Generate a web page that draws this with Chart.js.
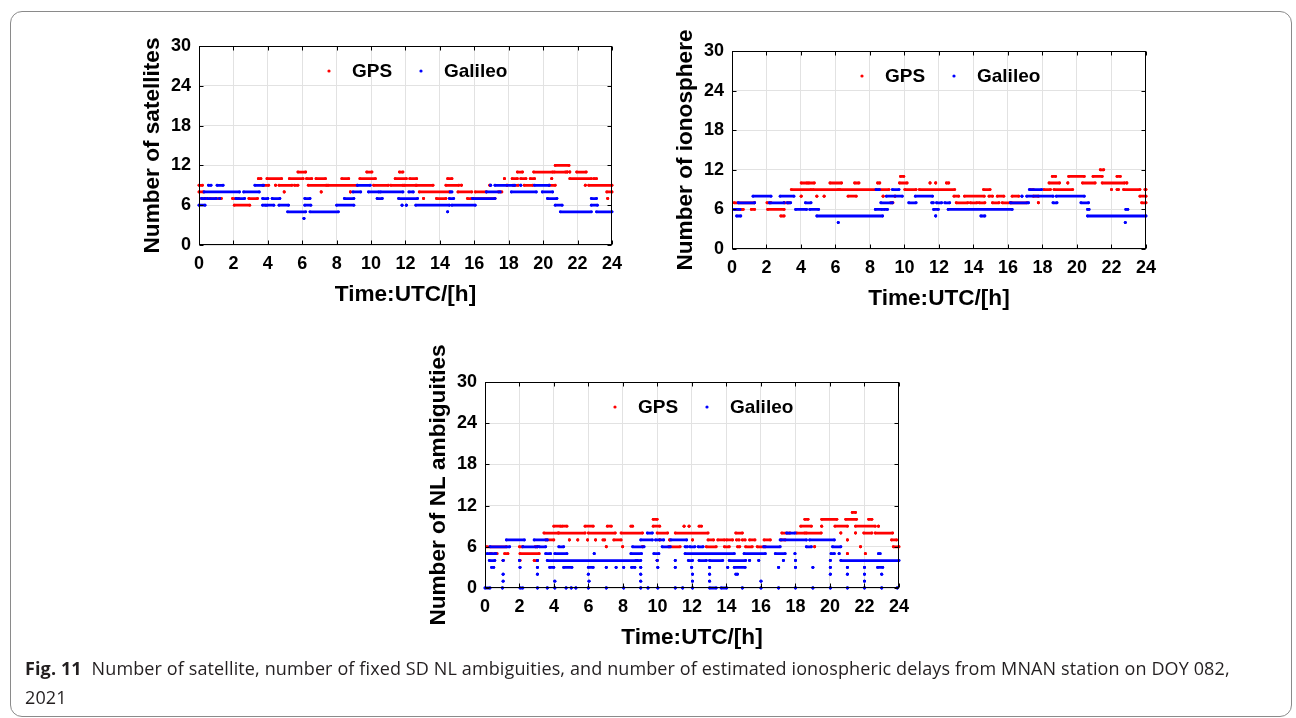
<!DOCTYPE html>
<html>
<head>
<meta charset="utf-8">
<title>Fig. 11</title>
<script src="https://cdn.jsdelivr.net/npm/chart.js@4.4.1/dist/chart.umd.min.js"></script>
<style>
  html, body { margin: 0; padding: 0; background: #fff; }
  body { width: 1296px; height: 718px; position: relative; overflow: hidden; }
  #frame { position: absolute; left: 10px; top: 11px; width: 1282px; height: 706px;
           border: 1px solid #8a8a8a; border-radius: 12px; box-sizing: border-box; }
  canvas { position: absolute; }
  #caption { position: absolute; left: 25px; top: 654px; font-family: 'Open Sans', sans-serif;
             font-size: 18px; letter-spacing: 0.12px; line-height: 29px; color: #231f20; white-space: nowrap; }
  #caption b { font-weight: 700; margin-right: 5px; }
</style>
</head>
<body>
<div id="frame"></div>
<canvas id="c-sat"></canvas>
<canvas id="c-iono"></canvas>
<canvas id="c-nl"></canvas>
<div id="caption"><b>Fig. 11</b> Number of satellite, number of fixed SD NL ambiguities, and number of estimated ionospheric delays from MNAN station on DOY 082,<br>2021</div>

<script>
// axis ticks
const hourTicks = [0, 2, 4, 6, 8, 10, 12, 14, 16, 18, 20, 22, 24];
const countTicks = [0, 6, 12, 18, 24, 30];
const seriesNames = ['GPS', 'Galileo'];

// runs: [start hour, end hour, count]
const satGps = [
  [0, 0.2, 9], [3.7, 4.05, 9], [4.45, 4.45, 9], [4.65, 5.4, 9], [5.55, 5.75, 9], [6.35, 7.4, 9], [7.5, 9.2, 9],
  [10.15, 11.0, 9], [11.15, 11.85, 9], [11.95, 12.6, 9], [12.65, 13.6, 9], [14.35, 15.1, 9], [15.25, 15.25, 9],
  [16.9, 16.9, 9], [17.9, 17.9, 9], [18.25, 18.55, 9], [18.9, 19.4, 9], [20.35, 20.7, 9], [22.45, 22.45, 9], [22.65, 24, 9],
  [3.45, 3.6, 10], [3.95, 4.8, 10], [5.25, 6.05, 10], [6.25, 6.55, 10], [6.8, 7.35, 10], [8.3, 8.7, 10], [9.35, 10.25, 10],
  [11.4, 12.05, 10], [12.25, 12.65, 10], [14.45, 14.7, 10], [17.75, 17.75, 10], [18.2, 18.5, 10], [18.7, 19.0, 10],
  [19.25, 19.5, 10], [20.5, 20.5, 10], [21.55, 22.8, 10], [22.95, 23.1, 10],
  [5.75, 6.2, 11], [9.75, 10.05, 11], [11.65, 11.85, 11], [18.5, 18.8, 11], [19.45, 20.55, 11], [20.65, 21.3, 11],
  [21.4, 21.4, 11], [21.55, 21.55, 11], [21.95, 22.5, 11],
  [20.7, 21.5, 12],
  [0, 0.25, 8], [4.95, 4.95, 8], [7.1, 7.1, 8], [8.8, 8.8, 8], [12.8, 14.55, 8], [15.05, 15.85, 8], [16.05, 16.7, 8],
  [17.4, 17.6, 8], [23.7, 24, 8],
  [0.15, 0.45, 7], [0.65, 1.3, 7], [1.95, 2.3, 7], [2.9, 3.4, 7], [13.05, 13.05, 7], [13.8, 14.35, 7], [15.6, 15.85, 7],
  [15.95, 17.2, 7], [23.75, 23.75, 7],
  [2.05, 2.95, 6]
];
const satGal = [
  [0.55, 0.7, 9], [1.05, 1.4, 9], [3.25, 3.75, 9], [9.2, 9.95, 9], [16.95, 16.95, 9], [17.2, 18.35, 9], [18.7, 18.7, 9], [19.5, 20.35, 9],
  [0.3, 2.35, 8], [2.6, 3.5, 8], [8.95, 9.4, 8], [9.85, 10.45, 8], [10.55, 11.85, 8], [12.2, 12.45, 8], [14.6, 14.7, 8],
  [16.7, 17.5, 8], [18.15, 19.6, 8], [19.95, 20.55, 8],
  [0.15, 0.35, 7], [0.5, 1.0, 7], [1.2, 1.2, 7], [2.15, 2.65, 7], [3.7, 4.0, 7], [4.25, 4.7, 7], [6.15, 6.45, 7], [8.45, 9.0, 7],
  [10.35, 10.65, 7], [11.6, 12.7, 7], [14.55, 14.8, 7], [15.9, 17.2, 7], [20.25, 20.8, 7], [22.8, 23.1, 7],
  [0, 0.35, 6], [3.7, 3.85, 6], [3.95, 4.35, 6], [4.65, 5.2, 6], [6.15, 6.5, 6], [8.0, 9.0, 6], [11.8, 11.8, 6], [12.05, 12.05, 6],
  [12.6, 14.55, 6], [14.7, 16.05, 6], [20.7, 21.1, 6], [22.8, 23.15, 6],
  [5.15, 6.2, 5], [6.45, 8.1, 5], [14.45, 14.45, 5], [21.0, 22.8, 5], [23.1, 24, 5],
  [6.1, 6.1, 4]
];

const ionoGps = [
  [21.35, 21.55, 12],
  [9.77, 9.96, 11], [18.57, 18.76, 11], [19.52, 20.42, 11], [20.93, 21.46, 11], [22.32, 22.51, 11],
  [4.01, 4.35, 10], [4.45, 4.77, 10], [5.68, 6.35, 10], [7.11, 7.36, 10], [8.44, 8.57, 10], [9.71, 10.15, 10], [11.48, 11.48, 10],
  [11.81, 11.81, 10], [12.43, 12.57, 10], [18.38, 18.99, 10], [19.47, 19.47, 10], [20.32, 21.05, 10], [21.46, 22.76, 10], [22.89, 22.89, 10],
  [3.44, 4.58, 9], [4.7, 6.16, 9], [6.25, 9.1, 9], [10.02, 10.67, 9], [10.86, 12.91, 9], [14.58, 14.96, 9], [17.28, 17.47, 9],
  [18.08, 18.46, 9], [18.67, 19.75, 9], [22.0, 22.0, 9], [22.32, 22.41, 9], [22.7, 23.65, 9], [23.94, 24, 9],
  [4.01, 4.01, 8], [4.92, 4.92, 8], [5.34, 5.34, 8], [6.73, 7.2, 8], [8.76, 8.76, 8], [9.45, 9.45, 8], [12.87, 13.14, 8],
  [13.48, 14.62, 8], [14.9, 15.1, 8], [15.38, 15.76, 8], [16.24, 16.62, 8], [17.47, 17.76, 8], [23.65, 24, 8],
  [0.13, 1.31, 7], [2.03, 2.26, 7], [3.02, 3.31, 7], [9.2, 9.33, 7], [13.0, 13.67, 7], [13.82, 14.2, 7], [14.33, 14.66, 7],
  [15.1, 15.48, 7], [15.67, 16.14, 7], [16.2, 17.1, 7], [17.76, 17.76, 7], [23.75, 24, 7],
  [0.17, 0.36, 6], [0.55, 0.65, 6], [1.12, 1.31, 6], [2.07, 3.02, 6],
  [2.83, 3.02, 5]
];
const ionoGal = [
  [8.35, 8.54, 9], [9.3, 9.68, 9], [17.24, 17.95, 9],
  [1.22, 2.26, 8], [2.79, 3.59, 8], [8.95, 9.87, 8], [10.63, 11.62, 8], [16.81, 16.81, 8], [17.09, 18.61, 8], [18.8, 20.42, 8],
  [0.36, 1.31, 7], [2.17, 3.02, 7], [3.21, 3.4, 7], [4.26, 4.58, 7], [8.63, 9.3, 7], [10.25, 10.67, 7], [11.58, 11.67, 7],
  [11.86, 12.15, 7], [12.34, 12.62, 7], [16.14, 17.19, 7], [18.61, 18.84, 7], [20.23, 20.67, 7],
  [0.13, 0.46, 6], [3.69, 4.32, 6], [4.51, 5.02, 6], [8.31, 8.69, 6], [8.82, 9.01, 6], [11.69, 11.96, 6], [12.53, 16.24, 6],
  [20.61, 20.7, 6], [22.83, 22.95, 6],
  [0.27, 0.51, 5], [4.92, 8.73, 5], [11.81, 11.81, 5], [14.43, 14.66, 5], [20.61, 24, 5],
  [6.16, 6.16, 4], [22.8, 22.8, 4]
];

const nlGps = [
  [21.29, 21.48, 11],
  [9.75, 9.98, 10], [18.54, 18.73, 10], [19.52, 20.4, 10], [20.91, 21.54, 10], [22.24, 22.43, 10],
  [3.99, 4.37, 9], [4.47, 4.75, 9], [5.8, 6.27, 9], [7.09, 7.32, 9], [8.46, 8.56, 9], [9.75, 10.13, 9], [11.54, 11.54, 9],
  [11.83, 11.83, 9], [12.41, 12.55, 9], [18.31, 18.92, 9], [19.52, 19.52, 9], [20.29, 21.01, 9], [21.48, 22.62, 9], [22.81, 22.81, 9],
  [3.42, 4.24, 8], [4.28, 5.8, 8], [5.99, 7.55, 8], [7.89, 9.13, 8], [9.98, 10.59, 8], [11.03, 12.93, 8], [14.54, 14.92, 8],
  [17.21, 17.68, 8], [18.06, 18.54, 8], [18.63, 19.49, 8], [20.63, 20.63, 8], [21.48, 21.48, 8], [21.96, 22.43, 8], [22.62, 23.63, 8],
  [3.52, 3.99, 7], [4.89, 4.89, 7], [5.38, 5.38, 7], [5.95, 5.95, 7], [6.41, 6.41, 7], [6.84, 6.94, 7], [7.47, 7.89, 7],
  [10.13, 10.13, 7], [10.7, 10.7, 7], [12.03, 12.03, 7], [12.93, 13.25, 7], [13.5, 13.88, 7], [14.01, 14.35, 7], [14.58, 14.73, 7],
  [14.92, 15.08, 7], [15.34, 15.65, 7], [16.18, 16.54, 7], [17.17, 17.4, 7], [21.01, 21.01, 7], [23.57, 23.86, 7],
  [0.1, 1.24, 6], [2.0, 2.19, 6], [2.91, 3.04, 6], [7.03, 7.03, 6], [7.98, 7.98, 6], [9.13, 9.13, 6], [10.65, 11.31, 6],
  [12.83, 13.4, 6], [13.88, 14.16, 6], [14.64, 14.77, 6], [15.11, 15.49, 6], [15.78, 16.25, 6], [19.11, 19.11, 6],
  [21.77, 21.77, 6], [23.67, 24, 6],
  [0.29, 0.38, 5], [0.57, 0.7, 5], [1.14, 1.33, 5], [2.03, 3.14, 5], [21.01, 21.01, 5], [22.05, 22.05, 5],
  [1.05, 1.05, 4], [2.03, 2.03, 4], [2.85, 3.04, 4], [9.98, 9.98, 4]
];
const nlGal = [
  [9.41, 9.7, 8], [17.49, 17.97, 8],
  [1.24, 2.28, 7], [2.85, 3.61, 7], [9.03, 9.7, 7], [9.89, 10.36, 7], [10.78, 11.69, 7], [17.11, 18.63, 7], [18.82, 20.25, 7],
  [0.29, 1.43, 6], [2.19, 3.04, 6], [3.14, 3.52, 6], [4.28, 4.56, 6], [8.56, 9.22, 6], [10.27, 10.74, 6], [11.6, 11.73, 6],
  [11.88, 12.17, 6], [12.36, 12.64, 6], [16.16, 17.11, 6], [18.63, 18.92, 6], [20.15, 20.63, 6],
  [0.13, 0.63, 5], [3.52, 3.8, 5], [4.05, 4.75, 5], [6.33, 6.33, 5], [8.46, 9.07, 5], [9.79, 10.08, 5], [11.6, 14.45, 5],
  [15.02, 16.25, 5], [16.83, 17.4, 5], [17.97, 17.97, 5], [20.06, 20.25, 5], [20.53, 20.53, 5], [22.81, 22.91, 5],
  [0.25, 0.57, 4], [1.05, 1.05, 4], [2.0, 2.0, 4], [3.04, 3.04, 4], [3.61, 8.75, 4], [8.84, 9.03, 4], [9.98, 9.98, 4],
  [11.03, 11.03, 4], [11.79, 12.03, 4], [12.41, 12.83, 4], [13.02, 13.78, 4], [14.16, 15.11, 4], [15.34, 15.34, 4],
  [15.87, 15.87, 4], [17.3, 17.3, 4], [18.0, 18.0, 4], [20.02, 20.02, 4], [20.63, 24, 4],
  [0.38, 0.51, 3], [2.03, 2.03, 3], [3.04, 3.04, 3], [3.75, 3.99, 3], [4.56, 5.04, 3], [5.99, 6.27, 3], [7.03, 7.03, 3],
  [7.6, 7.6, 3], [8.04, 8.04, 3], [8.5, 8.69, 3], [9.03, 9.03, 3], [10.02, 10.02, 3], [11.03, 11.03, 3], [11.98, 11.98, 3],
  [13.02, 13.02, 3], [14.07, 14.07, 3], [14.45, 15.08, 3], [17.02, 17.02, 3], [18.0, 18.0, 3], [19.01, 19.01, 3],
  [20.02, 20.02, 3], [21.01, 21.01, 3], [22.0, 22.0, 3], [22.76, 23.06, 3],
  [1.05, 1.05, 2], [3.04, 3.04, 2], [5.99, 5.99, 2], [9.03, 9.03, 2], [12.03, 12.03, 2], [13.02, 13.02, 2], [14.54, 14.64, 2],
  [20.02, 20.02, 2], [21.01, 21.01, 2], [22.0, 22.0, 2], [23.0, 23.0, 2],
  [1.05, 1.05, 1], [4.05, 4.05, 1], [6.03, 6.03, 1], [9.03, 9.03, 1], [12.03, 12.03, 1], [13.02, 13.02, 1], [16.0, 16.0, 1], [22.0, 22.0, 1],
  [0, 0.29, 0], [1.01, 1.01, 0], [2.03, 2.19, 0], [3.04, 3.04, 0], [3.61, 3.61, 0], [4.05, 4.05, 0], [4.7, 4.7, 0], [5.0, 5.0, 0],
  [5.27, 5.27, 0], [5.99, 5.99, 0], [7.03, 7.03, 0], [8.04, 8.04, 0], [9.03, 9.03, 0], [9.45, 9.45, 0], [10.02, 10.02, 0],
  [11.03, 11.03, 0], [11.46, 11.46, 0], [12.03, 12.03, 0], [13.02, 13.4, 0], [13.69, 14.01, 0], [14.92, 14.92, 0], [16.0, 16.0, 0],
  [17.02, 17.02, 0], [18.0, 18.0, 0], [19.01, 19.01, 0], [20.02, 20.02, 0], [21.01, 21.01, 0], [22.0, 22.0, 0], [23.0, 23.0, 0], [23.9, 23.9, 0]
];

const RED = '#ff0000';
const BLUE = '#0000ff';
const AXIS_FONT = 'Liberation Sans, Arial, sans-serif';
const TOP_ROOM = 60;

// each run becomes two points, then a gap so runs are not joined
function runsToPoints(runs) {
  const pts = [];
  runs.forEach(([s, e, v]) => {
    pts.push({ x: s, y: v }, { x: e, y: v }, { x: e, y: null });
  });
  return pts;
}

// black box round the plot, inward ticks on all four sides, legend inside, rotated y title
const matlabBox = {
  id: 'matlabBox',
  afterDraw(chart) {
    const { ctx, chartArea: a, scales: { x, y } } = chart;
    const L = Math.round(a.left) + 0.5, R = Math.round(a.right) - 0.5;
    const T = Math.round(a.top) + 0.5, B = Math.round(a.bottom) - 0.5;
    ctx.save();
    ctx.strokeStyle = '#000';
    ctx.lineWidth = 1;
    ctx.strokeRect(L, T, R - L, B - T);
    ctx.beginPath();
    hourTicks.forEach(v => {
      const px = Math.round(x.getPixelForValue(v)) + 0.5;
      ctx.moveTo(px, B); ctx.lineTo(px, B - 4);
      ctx.moveTo(px, T); ctx.lineTo(px, T + 4);
    });
    countTicks.forEach(v => {
      const py = Math.round(y.getPixelForValue(v)) + 0.5;
      ctx.moveTo(L, py); ctx.lineTo(L + 4, py);
      ctx.moveTo(R, py); ctx.lineTo(R - 4, py);
    });
    ctx.stroke();

    const ly = a.top + 25;
    ctx.font = 'bold 19px ' + AXIS_FONT;
    ctx.textBaseline = 'middle';
    ctx.fillStyle = RED;
    ctx.beginPath(); ctx.arc(a.left + 130, ly, 1.6, 0, Math.PI * 2); ctx.fill();
    ctx.fillStyle = BLUE;
    ctx.beginPath(); ctx.arc(a.left + 222, ly, 1.6, 0, Math.PI * 2); ctx.fill();
    ctx.fillStyle = '#000';
    ctx.fillText(seriesNames[0], a.left + 153, ly + 1);
    ctx.fillText(seriesNames[1], a.left + 245, ly + 1);

    // y title, drawn here so the long one is not squeezed to the axis height
    ctx.font = 'bold 22.6px ' + AXIS_FONT;
    ctx.textAlign = 'center';
    ctx.translate(a.left - 46, (a.top + a.bottom) / 2);
    ctx.rotate(-Math.PI / 2);
    ctx.fillText(chart.options.yTitleText, 0, 0);
    ctx.restore();
  }
};

function makeChart(id, gps, gal, yTitle, L, T, R, B) {
  const cv = document.getElementById(id);
  const left = L - 79, top = T - TOP_ROOM;
  const w = R - L + 90, h = B - T + TOP_ROOM + 70;
  cv.width = w; cv.height = h;
  cv.style.left = left + 'px'; cv.style.top = top + 'px';
  cv.style.width = w + 'px'; cv.style.height = h + 'px';

  const common = {
    showLine: true, spanGaps: false, tension: 0,
    borderWidth: 2.8, borderCapStyle: 'round', borderJoinStyle: 'round',
    pointRadius: 1.45, pointHoverRadius: 0, pointBorderWidth: 0, clip: 4
  };
  const tickFont = { family: AXIS_FONT, size: 18, weight: 'bold' };
  const titleFont = { family: AXIS_FONT, size: 22.6, weight: 'bold' };

  return new Chart(cv, {
    type: 'line',
    data: {
      datasets: [
        { ...common, label: seriesNames[0], data: runsToPoints(gps), borderColor: RED, backgroundColor: RED, pointBackgroundColor: RED, order: 1 },
        { ...common, label: seriesNames[1], data: runsToPoints(gal), borderColor: BLUE, backgroundColor: BLUE, pointBackgroundColor: BLUE, order: 0 }
      ]
    },
    options: {
      yTitleText: yTitle,
      responsive: false,
      animation: false,
      events: [],
      devicePixelRatio: 1,
      layout: { padding: { left: 0, top: TOP_ROOM, right: 11, bottom: 0 } },
      plugins: { legend: { display: false }, tooltip: { enabled: false } },
      scales: {
        x: {
          type: 'linear', min: 0, max: 24,
          afterBuildTicks: s => { s.ticks = hourTicks.map(v => ({ value: v })); },
          afterFit: s => { s.height = 70; },
          ticks: { color: '#000', font: tickFont, padding: 8, maxRotation: 0, autoSkip: false },
          grid: { color: '#e2e2e2', lineWidth: 1, drawTicks: false },
          border: { display: false },
          title: { display: true, text: 'Time:UTC/[h]', color: '#000', font: titleFont, padding: { top: 0, bottom: 7 } }
        },
        y: {
          type: 'linear', min: 0, max: 30,
          afterBuildTicks: s => { s.ticks = countTicks.map(v => ({ value: v })); },
          afterFit: s => { s.width = 79; },
          ticks: { color: '#000', font: tickFont, padding: 8 },
          grid: { color: '#e2e2e2', lineWidth: 1, drawTicks: false },
          border: { display: false },
          title: { display: false }
        }
      }
    },
    plugins: [matlabBox]
  });
}

makeChart('c-sat', satGps, satGal, 'Number of satellites', 199, 46, 619, 245);
makeChart('c-iono', ionoGps, ionoGal, 'Number of ionosphere', 732, 51, 1153, 249);
makeChart('c-nl', nlGps, nlGal, 'Number of NL ambiguities', 485, 382, 906, 588);
</script>
</body>
</html>
